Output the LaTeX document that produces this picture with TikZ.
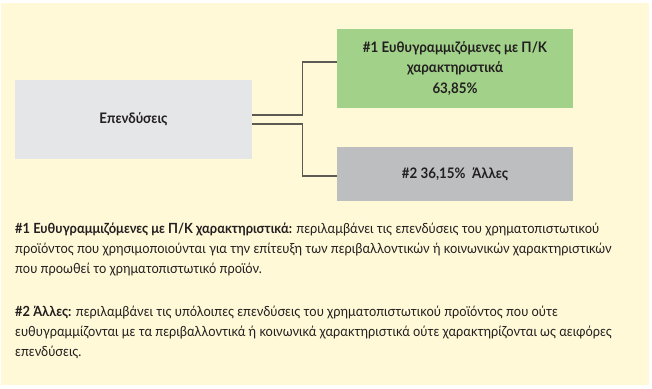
\documentclass[tikz,border=0pt]{standalone}
\usepackage{fontspec}
\setmainfont{Lato}[FakeStretch=0.92]
\definecolor{bgyellow}{HTML}{FFF9D7}
\definecolor{boxgray}{HTML}{E5E6E8}
\definecolor{boxgreen}{HTML}{A2D289}
\definecolor{boxgray2}{HTML}{BDBEC0}
\definecolor{linegray}{HTML}{5B5B53}
\definecolor{txt}{HTML}{231F20}
\tikzset{
  box/.style={rectangle, inner sep=0pt, align=center, text=txt, font=\fontsize{14.5}{20.5}\selectfont\bfseries},
  conn/.style={draw=linegray, line width=1.6pt},
  para/.style={anchor=west, inner sep=0pt, align=left, text=txt, font=\fontsize{14}{20}\selectfont}
}
\begin{document}
\begin{tikzpicture}[x=1pt,y=-1pt]
\useasboundingbox (0,0) rectangle (652,388);
\fill[white] (0,0) rectangle (652,388);
\fill[bgyellow] (1,3) rectangle (649,385);
\node[box, fill=boxgray, minimum width=237pt, minimum height=79pt] (inv) at (133.5,119.5) {Επενδύσεις};
\node[box, fill=boxgreen, minimum width=236pt, minimum height=79pt] (g1) at (455,68.5) {\#1 Ευθυγραμμιζόμενες με Π/Κ\\χαρακτηριστικά\\63,85\%};
\node[box, fill=boxgray2, minimum width=236pt, minimum height=54pt] (g2) at (455,174) {\#2 36,15\%~~Άλλες};
\coordinate (j) at (302.5,119.5);
\draw[conn] ([yshift=4.5pt]inv.east) -- ([yshift=4.5pt]inv.east -| j) |- ([yshift=6.5pt]g1.west);
\draw[conn] ([yshift=-4.5pt]inv.east) -- ([yshift=-4.5pt]inv.east -| j) |- ([yshift=-2pt]g2.west);
\node[para] (p1) at (15,249) {\textbf{\#1 Ευθυγραμμιζόμενες με Π/Κ χαρακτηριστικά:} περιλαμβάνει τις επενδύσεις του χρηματοπιστωτικού\\προϊόντος που χρησιμοποιούνται για την επίτευξη των περιβαλλοντικών ή κοινωνικών χαρακτηριστικών\\που προωθεί το χρηματοπιστωτικό προϊόν.};
\node[para] (p2) at (15,332) {\textbf{\#2 Άλλες:} περιλαμβάνει τις υπόλοιπες επενδύσεις του χρηματοπιστωτικού προϊόντος που ούτε\\ευθυγραμμίζονται με τα περιβαλλοντικά ή κοινωνικά χαρακτηριστικά ούτε χαρακτηρίζονται ως αειφόρες\\επενδύσεις.};
\end{tikzpicture}
\end{document}
